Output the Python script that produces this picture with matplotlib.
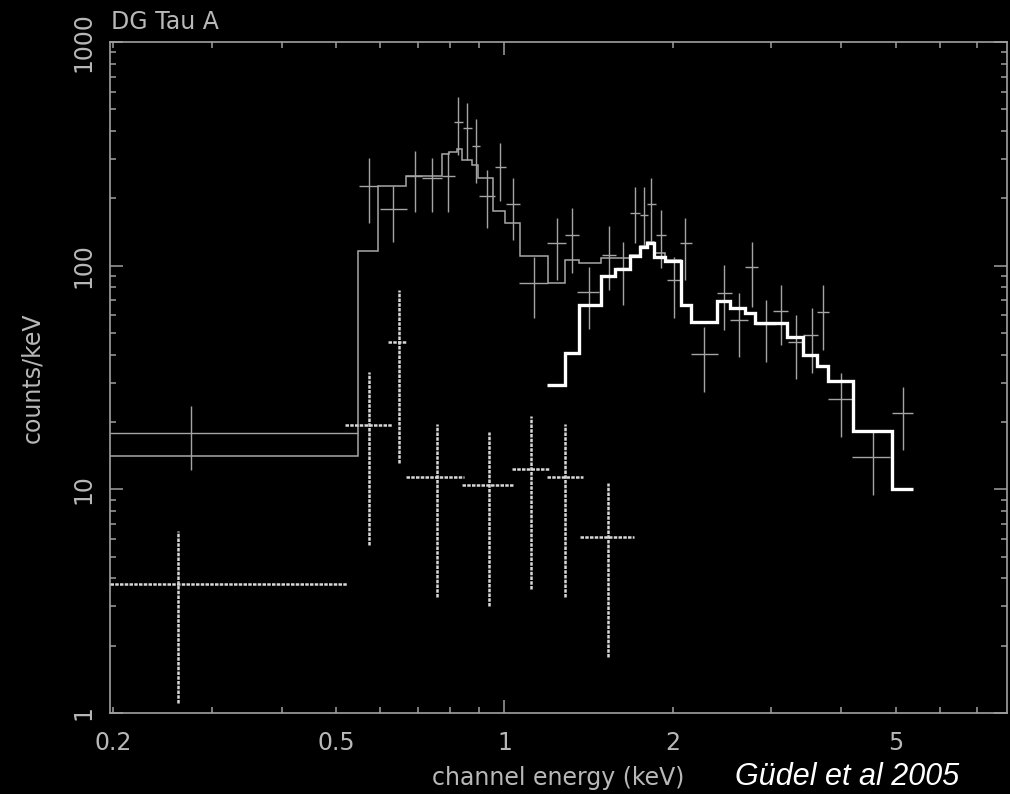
import matplotlib
matplotlib.use("Agg")
import matplotlib.pyplot as plt
import numpy as np

# total model (thin grey histogram), keV bin edges and counts/keV
model_edges = [0.197, 0.548, 0.595, 0.667, 0.772, 0.797, 0.821, 0.839, 0.874, 0.898,
               0.955, 1.002, 1.066, 1.195, 1.283, 1.360, 1.486, 1.576, 1.676, 1.747,
               1.796, 1.850, 1.936, 2.065, 2.152, 2.401, 2.529, 2.690, 2.804, 3.194,
               3.412, 3.624, 3.791, 4.192, 4.920, 5.378]
model_vals = [14.1, 116.6, 226.9, 251.5, 315.4, 322.9, 331.1, 296.5, 281.6, 245.6,
              176.0, 154.6, 110.7, 83.9, 105.9, 103.0, 107.8, 107.8, 112.0, 122.0,
              127.0, 114.0, 106.0, 66.7, 56.1, 69.7, 64.8, 61.6, 55.2, 47.8,
              39.8, 35.6, 30.6, 18.3, 10.0]

# hard component (thick white histogram)
hard_edges = [1.193, 1.283, 1.360, 1.486, 1.576, 1.676, 1.747, 1.796, 1.850, 1.936,
              2.065, 2.152, 2.401, 2.529, 2.690, 2.804, 3.194, 3.412, 3.624, 3.791,
              4.192, 4.920, 5.378]
hard_vals = [29.3, 40.6, 66.7, 89.9, 96.3, 110.4, 120.7, 125.8, 108.9, 105.2,
             66.7, 56.1, 69.7, 64.8, 61.6, 55.2, 47.8, 39.8, 35.6, 30.6,
             18.3, 10.0]

# observed spectrum (thin grey crosses)
obs_e = [0.275, 0.573, 0.633, 0.692, 0.741, 0.792, 0.827, 0.858, 0.889, 0.929,
         0.982, 1.037, 1.130, 1.240, 1.318, 1.418, 1.537, 1.626, 1.711, 1.776,
         1.825, 1.902, 2.011, 2.102, 2.276, 2.468, 2.629, 2.765, 2.934, 3.117,
         3.319, 3.538, 3.702, 3.990, 4.550, 5.149]
obs_elo = [0.197, 0.550, 0.599, 0.667, 0.711, 0.772, 0.813, 0.844, 0.874, 0.902,
           0.962, 1.006, 1.063, 1.193, 1.283, 1.349, 1.492, 1.582, 1.676, 1.747,
           1.798, 1.866, 1.950, 2.059, 2.152, 2.401, 2.529, 2.690, 2.815, 3.016,
           3.215, 3.420, 3.614, 3.791, 4.175, 4.920]
obs_ehi = [0.548, 0.595, 0.669, 0.711, 0.772, 0.816, 0.844, 0.874, 0.904, 0.962,
           1.006, 1.066, 1.198, 1.286, 1.360, 1.477, 1.582, 1.676, 1.747, 1.805,
           1.866, 1.944, 2.059, 2.161, 2.411, 2.547, 2.728, 2.841, 3.057, 3.215,
           3.420, 3.639, 3.806, 4.175, 4.887, 5.378]
obs_c = [17.9, 226.9, 179.1, 252.3, 245.6, 251.5, 439.8, 411.1, 343.6, 204.7,
         275.0, 187.9, 83.9, 125.8, 137.5, 76.0, 111.5, 97.6, 171.3, 168.3,
         188.5, 137.5, 86.0, 125.8, 40.1, 75.7, 57.4, 98.3, 54.8, 62.7,
         45.7, 49.1, 62.2, 25.3, 13.9, 21.9]
obs_clo = [12.2, 155.6, 127.9, 174.2, 174.2, 174.2, 312.2, 296.5, 234.8, 146.8,
           195.0, 130.2, 58.1, 86.2, 92.4, 51.9, 77.8, 66.7, 125.8, 121.1,
           127.9, 97.3, 58.1, 86.2, 27.3, 51.5, 39.2, 65.5, 37.2, 44.2,
           31.0, 33.1, 42.0, 17.2, 9.43, 15.0]
obs_chi = [23.6, 301.7, 226.9, 325.3, 301.7, 322.9, 568.9, 531.6, 450.8, 267.6,
           354.3, 245.6, 109.6, 162.7, 180.4, 98.9, 149.9, 127.9, 225.3, 224.6,
           245.6, 177.3, 109.6, 162.7, 53.3, 100.6, 75.2, 127.9, 70.2, 81.9,
           60.2, 64.4, 81.9, 33.0, 18.1, 28.8]

# second spectrum (dotted crosses)
jet_e = [0.261, 0.573, 0.648, 0.757, 0.938, 1.115, 1.283, 1.531]
jet_elo = [0.197, 0.519, 0.619, 0.667, 0.839, 1.031, 1.191, 1.364]
jet_ehi = [0.523, 0.629, 0.670, 0.847, 1.036, 1.201, 1.381, 1.704]
jet_c = [3.77, 19.4, 45.6, 11.35, 10.45, 12.3, 11.35, 6.12]
jet_clo = [1.11, 5.64, 13.1, 3.30, 3.01, 3.58, 3.30, 1.78]
jet_chi = [6.51, 33.4, 77.8, 19.6, 18.0, 21.3, 19.6, 10.7]

xticks = [0.2, 0.5, 1, 2, 5]
xtick_labels = ['0.2', '0.5', '1', '2', '5']
xminor = [0.3, 0.4, 0.6, 0.7, 0.8, 0.9, 3, 4, 6, 7]
yticks = [1, 10, 100, 1000]
ytick_labels = ['1', '10', '100', '1000']

fg = '#a0a0a0'
txt = '#b8b8b8'

fig = plt.figure(figsize=(10.1, 7.94), dpi=100, facecolor='black')
ax = fig.add_axes([110 / 1010, 81 / 794, 897 / 1010, 671 / 794])
ax.set_facecolor('black')
ax.set_xscale('log')
ax.set_yscale('log')

ax.stairs(model_vals, model_edges, baseline=None, color='#a8a8a8', lw=1.1, zorder=2)

e = np.array(obs_e)
c = np.array(obs_c)
ax.errorbar(e, c, xerr=[e - np.array(obs_elo), np.array(obs_ehi) - e],
            yerr=[c - np.array(obs_clo), np.array(obs_chi) - c],
            fmt='none', ecolor='#a4a4a4', elinewidth=1.0, capsize=0, zorder=2)

je = np.array(jet_e)
jc = np.array(jet_c)
eb = ax.errorbar(je, jc, xerr=[je - np.array(jet_elo), np.array(jet_ehi) - je],
                 yerr=[jc - np.array(jet_clo), np.array(jet_chi) - jc],
                 fmt='none', ecolor='#d8d8d8', elinewidth=1.8, capsize=0, zorder=3)
for col in eb[2]:
    col.set_linestyle((0, (1.4, 0.5)))

ax.stairs(hard_vals, hard_edges, baseline=None, color='white', lw=2.4, zorder=4)

ax.set_xlim(0.1972, 7.91)
ax.set_ylim(1, 1000)
ax.set_xticks(xticks, labels=xtick_labels)
ax.set_xticks(xminor, minor=True)
ax.set_xticklabels([], minor=True)
ax.set_yticks(yticks, labels=ytick_labels)
ax.yaxis.set_minor_formatter(matplotlib.ticker.NullFormatter())

ax.tick_params(which='both', direction='in', top=True, right=True,
               color=fg, labelcolor=txt, width=1.1, labelsize=17)
ax.tick_params(which='minor', length=4.1)
ax.tick_params(axis='x', which='major', length=4.1, pad=13)
ax.tick_params(axis='y', which='major', length=9.1, pad=10.4, labelrotation=90)
for lab in ax.get_yticklabels():
    lab.set_va('center')
for t in ax.xaxis.get_major_ticks():
    if t.get_loc() == 1:
        t.tick1line.set_markersize(9.1)
        t.tick2line.set_markersize(9.1)

for s in ax.spines.values():
    s.set_color(fg)
    s.set_linewidth(1.2)

ax.set_xlabel('channel energy (keV)', color=txt, fontsize=17, labelpad=8)
ax.set_ylabel('counts/keV', color=txt, fontsize=17, labelpad=20)

fig.text(111 / 1010, 1 - 29 / 794, 'DG Tau A', color=txt, fontsize=17, va='baseline')
# credit line sits in the bottom-right corner, kept inside the canvas
fig.text(735 / 1010, 2 / 794, 'Güdel et al 2005', color='white', fontsize=22,
         family='Liberation Sans', style='italic', va='bottom')

fig.savefig('out.png', dpi=100, facecolor='black')
